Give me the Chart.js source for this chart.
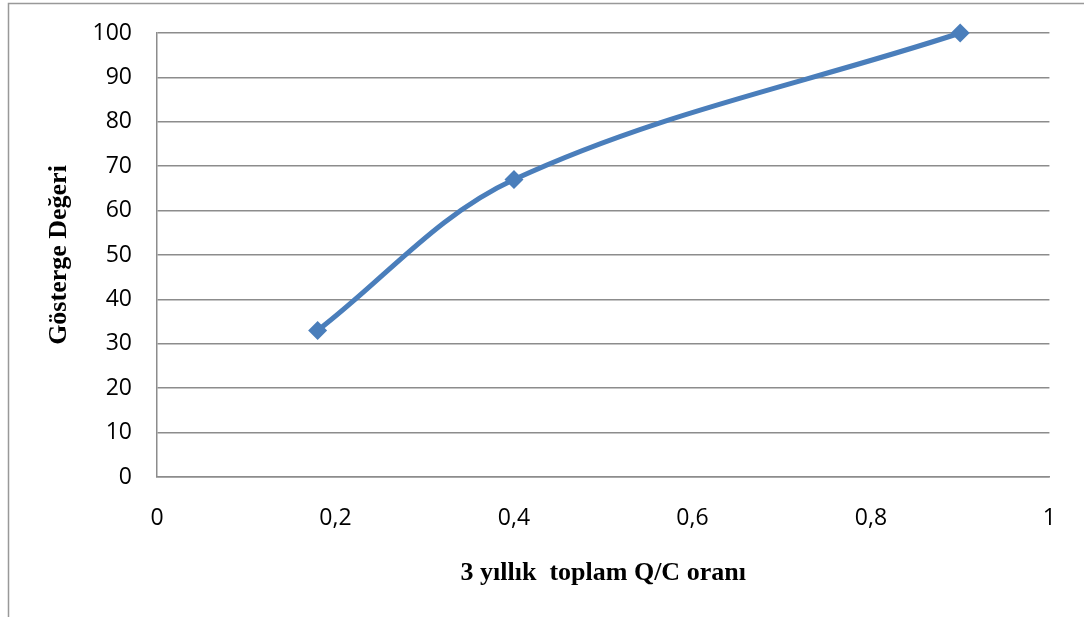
<!DOCTYPE html>
<html>
<head>
<meta charset="utf-8">
<script src="https://cdn.jsdelivr.net/npm/chart.js@4/dist/chart.umd.min.js"></script>
<style>
  html, body { margin: 0; padding: 0; background: #fff; }
  canvas { display: block; }
</style>
</head>
<body>
<canvas id="myChart" width="1084" height="617"></canvas>
<script>
// data
const qcRatio = [0.18, 0.4, 0.9];
const indicatorValues = [33, 67, 100];
const xTicks = [0, 0.2, 0.4, 0.6, 0.8, 1];
const yTicks = [0, 10, 20, 30, 40, 50, 60, 70, 80, 90, 100];

const xTitle = '3 yıllık  toplam Q/C oranı';
const yTitle = 'Gösterge Değeri';

const lineColor = '#4a7ebb';
const gridColor = '#8c8c8c';

// outer frame like the Excel chart area
const framePlugin = {
    id: 'frame',
    afterDraw(chart) {
        const ctx = chart.ctx;
        ctx.save();
        ctx.strokeStyle = '#999999';
        ctx.lineWidth = 1.5;
        ctx.beginPath();
        ctx.moveTo(8.5, 617);
        ctx.lineTo(8.5, 3.5);
        ctx.lineTo(1084, 3.5);
        ctx.stroke();
        ctx.restore();
    }
};

const tickFont = { family: '"Open Sans", sans-serif', size: 23 };
const titleFont = { family: '"Liberation Serif", "Times New Roman", serif', size: 26, weight: 'bold' };

const ctx = document.getElementById('myChart').getContext('2d');
const chart = new Chart(ctx, {
    type: 'line',
    data: {
        datasets: [{
            data: qcRatio.map((x, i) => ({ x: x, y: indicatorValues[i] })),
            borderColor: lineColor,
            backgroundColor: lineColor,
            borderWidth: 5,
            tension: 0.35,
            pointStyle: 'rectRot',
            pointRadius: 9.5,
            pointHoverRadius: 9.5,
            pointBorderWidth: 0,
            clip: false
        }]
    },
    options: {
        responsive: false,
        animation: false,
        events: [],
        layout: { autoPadding: false, padding: { top: 33, right: 33, left: 0, bottom: 0 } },
        plugins: {
            legend: { display: false },
            tooltip: { enabled: false }
        },
        scales: {
            x: {
                type: 'linear',
                min: 0,
                max: 1,
                afterBuildTicks: scale => { scale.ticks = xTicks.map(v => ({ value: v })); },
                afterFit: scale => { scale.height = 140; },
                grid: { display: false, drawTicks: false },
                border: { display: true, color: gridColor, width: 1.5 },
                ticks: {
                    color: '#000',
                    font: tickFont,
                    padding: 28,
                    maxRotation: 0,
                    callback: v => String(Math.round(v * 10) / 10).replace('.', ',')
                },
                title: {
                    display: true,
                    text: xTitle,
                    color: '#000',
                    font: titleFont,
                    padding: { top: 0, bottom: 28 }
                }
            },
            y: {
                min: 0,
                max: 100,
                afterBuildTicks: scale => { scale.ticks = yTicks.map(v => ({ value: v })); },
                afterFit: scale => {
                    scale.width = 157;
                    // tick padding should not push the plot down
                    scale.paddingTop = 0;
                    scale.paddingBottom = 0;
                },
                grid: { color: gridColor, lineWidth: 1.5, drawTicks: false },
                border: { display: true, color: gridColor, width: 1.5 },
                ticks: {
                    color: '#000',
                    font: tickFont,
                    padding: 25
                },
                title: {
                    display: true,
                    text: yTitle,
                    color: '#000',
                    font: titleFont,
                    padding: { top: 44, bottom: 0 }
                }
            }
        }
    },
    plugins: [framePlugin]
});
</script>
</body>
</html>
